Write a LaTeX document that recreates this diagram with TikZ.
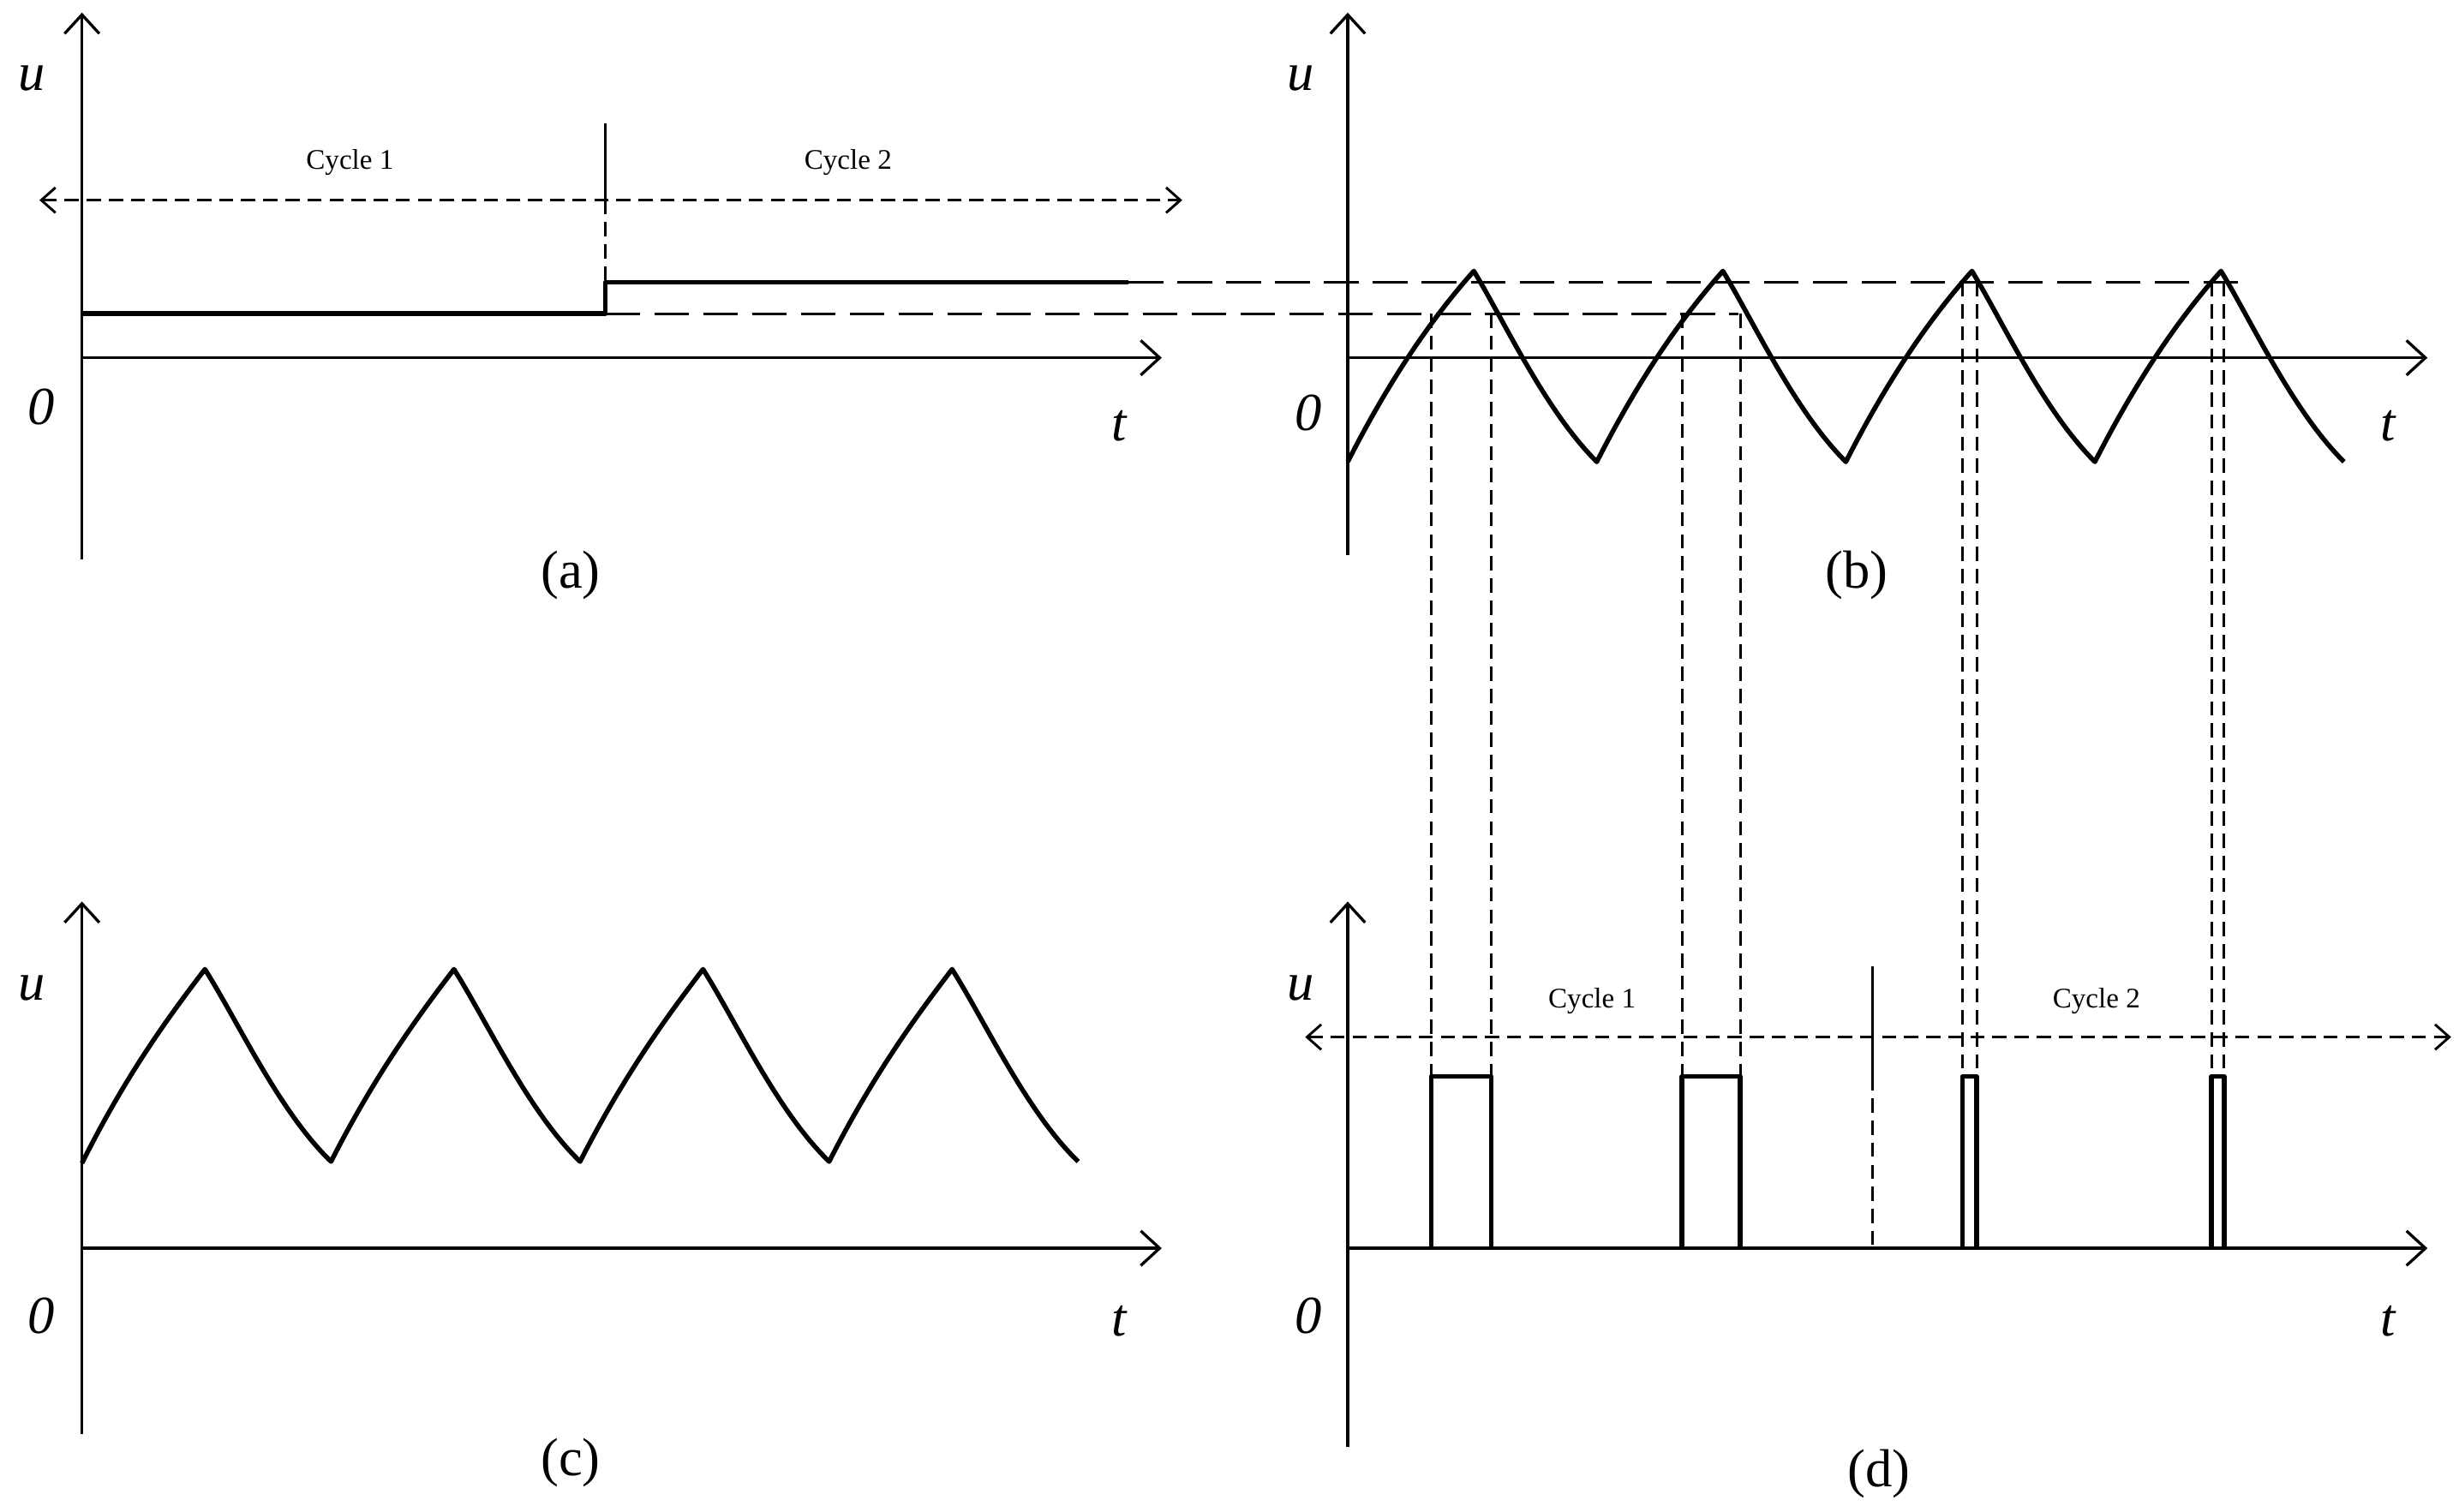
\documentclass[tikz,border=0pt]{standalone}
\usepackage{fontspec}
\setmainfont{Liberation Serif}
\usetikzlibrary{arrows.meta}
\begin{document}
\begin{tikzpicture}[x=1pt,y=-1pt,
 ax/.style={line width=1.8pt,-{Straight Barb[length=12pt,width=22pt,line width=1.8pt]}},
 sig/.style={line width=3pt,line join=round},
 dsh/.style={line width=1.6pt,dash pattern=on 9pt off 5pt},
 ldsh/.style={line width=1.6pt,dash pattern=on 22pt off 9pt},
 dblarr/.style={line width=1.6pt,dash pattern=on 9pt off 5pt,{Straight Barb[length=9pt,width=16pt,line width=1.6pt]}-{Straight Barb[length=9pt,width=16pt,line width=1.6pt]}},
 lab/.style={font=\fontsize{34}{40}\selectfont\itshape},
 cyc/.style={font=\fontsize{18}{22}\selectfont},
 captxt/.style={font=\fontsize{34}{40}\selectfont}]
\useasboundingbox (0,0) rectangle (1560,959);
% (a)
\draw[ax] (52,355) -- (52,8);
\draw[ax] (52,227) -- (737,227);
\node[lab] (ua) at (20,50) {u};
\node[lab] (za) at (26,258) {0};
\node[lab] (ta) at (710,270) {t};
\node[cyc] (c1a) at (222,103) {Cycle 1};
\node[cyc] (c2a) at (538,103) {Cycle 2};
\draw[dblarr] (25,127) -- (750,127);
\draw[line width=1.6pt] (384,78) -- (384,127);
\draw[dsh] (384,127) -- (384,199);
\draw[sig] (52,199) -- (384,199) -- (384,179) -- (716,179);
\draw[ldsh] (384,199) -- (1103,199);
\draw[ldsh] (716,179) -- (1420,179);
\node[captxt] (capa) at (362,365) {(a)};
% (b)
\draw[ax] (855,352) -- (855,8);
\draw[ax] (855,227) -- (1540,227);
\node[lab] (ub) at (825,50) {u};
\node[lab] (zb) at (830,262) {0};
\node[lab] (tb) at (1515,270) {t};
\draw[sig] (855,293)
 \foreach \x in {855,1013,1171,1329}{
  .. controls (\x+28,238) and (\x+55,200) .. (\x+80,172)
  .. controls (\x+100,205) and (\x+125,260) .. (\x+158,293)};
\node[captxt] (capb) at (1178,365) {(b)};
% (c)
\draw[ax] (52,910) -- (52,572);
\draw[ax] (52,792) -- (737,792);
\node[lab] (uc) at (20,627) {u};
\node[lab] (zc) at (26,835) {0};
\node[lab] (tc) at (710,838) {t};
\draw[sig] (52,738)
 \foreach \x in {52,210,368,526}{
  .. controls (\x+28,682) and (\x+55,645) .. (\x+78,615)
  .. controls (\x+100,650) and (\x+125,705) .. (\x+158,737)};
\node[captxt] (capc) at (362,928) {(c)};
% (d)
\draw[ax] (855,918) -- (855,572);
\draw[ax] (855,792) -- (1540,792);
\node[lab] (ud) at (825,627) {u};
\node[lab] (zd) at (830,835) {0};
\node[lab] (td) at (1515,838) {t};
\draw[dblarr] (828,658) -- (1555,658);
\node[cyc] (c1d) at (1010,635) {Cycle 1};
\node[cyc] (c2d) at (1330,635) {Cycle 2};
\draw[line width=1.6pt] (1188,613) -- (1188,683);
\draw[dsh] (1188,683) -- (1188,792);
\foreach \a/\b in {908/946,1067/1104}{
 \draw[sig] (\a,792) -- (\a,683) -- (\b,683) -- (\b,792);
 \draw[dsh] (\a,199) -- (\a,683);
 \draw[dsh] (\b,199) -- (\b,683);}
\foreach \a/\b in {1245/1254,1403/1411}{
 \draw[sig] (\a,792) -- (\a,683) -- (\b,683) -- (\b,792);
 \draw[dsh] (\a,179) -- (\a,683);
 \draw[dsh] (\b,179) -- (\b,683);}
\node[captxt] (capd) at (1192,935) {(d)};
\end{tikzpicture}
\end{document}
